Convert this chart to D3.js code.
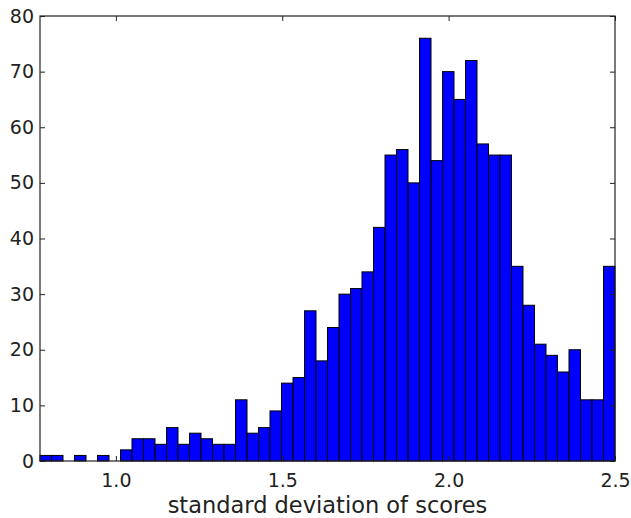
<!DOCTYPE html>
<html>
<head>
<meta charset="utf-8">
<script src="https://cdn.jsdelivr.net/npm/d3@7"></script>
<style>
  body { margin: 0; background: #fff; }
  text { font-family: "DejaVu Sans", sans-serif; fill: #222; }
</style>
</head>
<body>
<svg id="chart" width="631" height="518"></svg>
<script>
// histogram of per-item score standard deviations
var binLo = 0.772;
var binHi = 2.5;
var counts = [1, 1, 0, 1, 0, 1, 0, 2, 4, 4,
              3, 6, 3, 5, 4, 3, 3, 11, 5, 6,
              9, 14, 15, 27, 18, 24, 30, 31, 34, 42,
              55, 56, 50, 76, 54, 70, 65, 72, 57, 55,
              55, 35, 28, 21, 19, 16, 20, 11, 11, 35];
var xTicks = [1.0, 1.5, 2.0, 2.5];
var yTicks = [0, 10, 20, 30, 40, 50, 60, 70, 80];
var xLabel = 'standard deviation of scores';

var margin = {top: 16, right: 16, bottom: 57, left: 40};
var width = 631 - margin.left - margin.right;
var height = 518 - margin.top - margin.bottom;

var svg = d3.select('#chart');
var g = svg.append('g')
    .attr('transform', 'translate(' + margin.left + ',' + margin.top + ')');

var x = d3.scaleLinear().domain([binLo, binHi]).range([0, width]);
var y = d3.scaleLinear().domain([0, 80]).range([height, 0]);

// bin edges: equal-width bins between the two limits
var step = (binHi - binLo) / counts.length;
var bins = counts.map(function(c, i) {
    return {x0: binLo + i * step, x1: binLo + (i + 1) * step, n: c};
});

g.selectAll('rect.bar')
    .data(bins.filter(function(d) { return d.n > 0; }))
    .enter().append('rect')
    .attr('class', 'bar')
    .attr('x', function(d) { return x(d.x0); })
    .attr('width', function(d) { return x(d.x1) - x(d.x0); })
    .attr('y', function(d) { return y(d.n); })
    .attr('height', function(d) { return y(0) - y(d.n); })
    .attr('fill', '#0000ff')
    .attr('stroke', '#000')
    .attr('stroke-width', 1);

// matplotlib classic: ticks point inward on all four sides
var tickLen = 5;
var axes = [
    {gen: d3.axisBottom(x), tr: 'translate(0,' + height + ')', vals: xTicks, fmt: d3.format('.1f'), pad: 8},
    {gen: d3.axisTop(x), tr: 'translate(0,0)', vals: xTicks, fmt: null, pad: 8},
    {gen: d3.axisLeft(y), tr: 'translate(0,0)', vals: yTicks, fmt: d3.format('d'), pad: 1},
    {gen: d3.axisRight(y), tr: 'translate(' + width + ',0)', vals: yTicks, fmt: null, pad: 1}
];
axes.forEach(function(a) {
    var ax = g.append('g')
        .attr('transform', a.tr)
        .call(a.gen.tickValues(a.vals)
            .tickSizeInner(-tickLen)
            .tickSizeOuter(0)
            .tickPadding(tickLen + a.pad)
            .tickFormat(a.fmt || function() { return ''; }));
    ax.select('.domain').remove();
    ax.selectAll('.tick line').attr('stroke', '#222');
    ax.selectAll('.tick text')
        .style('font-size', '19px')
        .style('font-family', '"DejaVu Sans", sans-serif')
        .attr('fill', '#222');
});

// frame
g.append('rect')
    .attr('width', width)
    .attr('height', height)
    .attr('fill', 'none')
    .attr('stroke', '#222')
    .attr('stroke-width', 1.2);

g.append('text')
    .attr('x', width / 2)
    .attr('y', height + 52)
    .attr('text-anchor', 'middle')
    .style('font-size', '22.5px')
    .text(xLabel);
</script>
</body>
</html>
